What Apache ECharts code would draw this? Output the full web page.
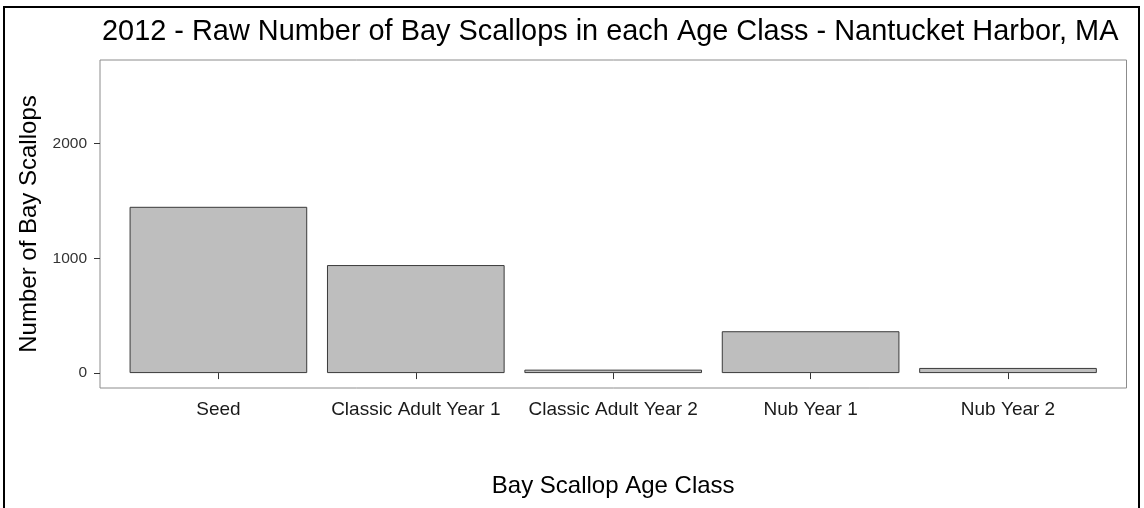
<!DOCTYPE html>
<html>
<head>
<meta charset="utf-8">
<script src="https://cdn.jsdelivr.net/npm/echarts@6/dist/echarts.min.js"></script>
<style>
  html, body { margin: 0; padding: 0; background: #fff; }
  #chart { width: 1144px; height: 508px; }
</style>
</head>
<body>
<div id="chart"></div>
<script>
// Age classes and raw counts of bay scallops, Nantucket Harbor 2012
const ageClasses = ['Seed', 'Classic Adult Year 1', 'Classic Adult Year 2', 'Nub Year 1', 'Nub Year 2'];
const scallopCounts = [1450, 942, 30, 365, 45];
const yTicks = [0, 1000, 2000];

const FONT = '"Liberation Sans", Arial, Helvetica, sans-serif';

const chart = echarts.init(document.getElementById('chart'), null, { renderer: 'canvas' });

chart.setOption({
  backgroundColor: '#ffffff',
  animation: false,
  title: {
    text: '2012 - Raw Number of Bay Scallops in each Age Class - Nantucket Harbor, MA',
    left: 97,
    top: 13,
    textStyle: { fontFamily: FONT, fontSize: 28.9, fontWeight: 'normal', color: '#000' }
  },
  graphic: [{
    // outer frame around the figure
    type: 'rect',
    shape: { x: 4, y: 7, width: 1135, height: 520 },
    style: { fill: 'none', stroke: '#000', lineWidth: 2 },
    silent: true
  }],
  grid: [
    // bar area: inset so category bands line up with the panel's padding
    { left: 119.7, top: 60, width: 987, height: 328, containLabel: false },
    // panel outline
    { left: 100, top: 60, width: 1026.5, height: 328, show: true,
      borderColor: '#8c8c8c', borderWidth: 1, backgroundColor: 'transparent' }
  ],
  xAxis: [
    {
      type: 'category',
      gridIndex: 0,
      data: ageClasses,
      boundaryGap: true,
      name: 'Bay Scallop Age Class',
      nameLocation: 'middle',
      nameGap: 86,
      nameTextStyle: { fontFamily: FONT, fontSize: 24, color: '#000' },
      axisLine: { show: false },
      axisTick: { show: true, alignWithLabel: true, interval: 0, length: 6, lineStyle: { color: '#333', width: 1 } },
      axisLabel: { interval: 0, margin: 12, fontFamily: FONT, fontSize: 19, color: '#1a1a1a' },
      splitLine: { show: false }
    },
    { type: 'value', gridIndex: 1, show: false, min: 0, max: 1 }
  ],
  yAxis: [
    {
      type: 'value',
      gridIndex: 0,
      min: -130,
      max: 2730,
      offset: 19.7,
      name: 'Number of Bay Scallops',
      nameLocation: 'middle',
      nameGap: 56,
      nameTextStyle: { fontFamily: FONT, fontSize: 24, color: '#000' },
      axisLine: { show: false },
      axisTick: { show: true, length: 6, customValues: yTicks, lineStyle: { color: '#333', width: 1 } },
      axisLabel: {
        margin: 13, fontFamily: FONT, fontSize: 15.5, color: '#333', customValues: yTicks,
        formatter: v => String(v)
      },
      splitLine: { show: false }
    },
    { type: 'value', gridIndex: 1, show: false, min: 0, max: 1 }
  ],
  series: [{
    type: 'bar',
    xAxisIndex: 0,
    yAxisIndex: 0,
    data: scallopCounts,
    barWidth: '90%',
    itemStyle: { color: '#bebebe', borderColor: '#3a3a3a', borderWidth: 1 },
    silent: true
  }]
});
</script>
</body>
</html>
